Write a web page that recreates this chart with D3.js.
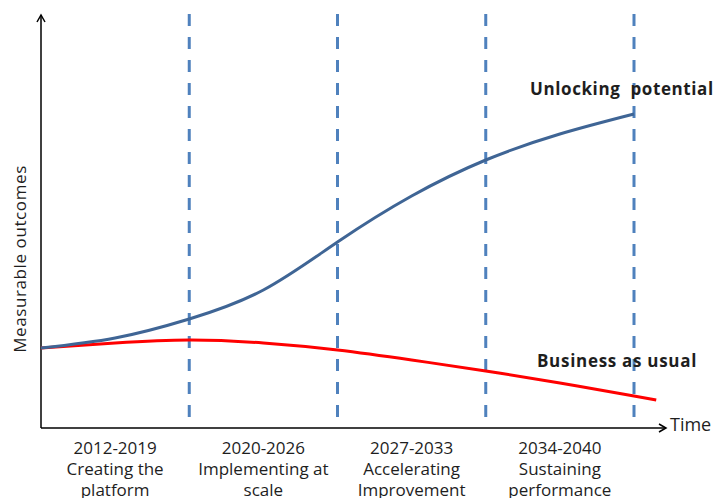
<!DOCTYPE html>
<html>
<head>
<meta charset="utf-8">
<script src="https://cdn.jsdelivr.net/npm/d3@7"></script>
<style>
  body { margin: 0; background: #fff; }
  text { font-family: "Open Sans", sans-serif; fill: #1e1e1e; }
</style>
</head>
<body>
<div id="chart"></div>
<script>
// Phase positions along the time axis (0 = start, 4 = 2040)
const phasePoints = [0, 0.5, 1, 1.5, 2, 2.5, 3, 3.5, 4];
const unlockingValues = [20, 22.5, 27.25, 34.5, 46.5, 58, 67, 73.5, 78.5];

const businessPoints = [0, 0.5, 1, 1.5, 2, 2.5, 3, 3.5, 4, 4.15];
const businessValues = [20, 21.25, 22, 21.25, 19.5, 17, 14.25, 11.25, 8, 7];

const dividers = [1, 2, 3, 4];
const periods = ["2012-2019", "2020-2026", "2027-2033", "2034-2040"];
const periodNames = [
  ["Creating the", "platform"],
  ["Implementing at", "scale"],
  ["Accelerating", "Improvement"],
  ["Sustaining", "performance"]
];

const width = 717, height = 498;

const svg = d3.select("#chart")
  .append("svg")
  .attr("width", width)
  .attr("height", height);

// Scales
const x = d3.scaleLinear().domain([0, 4]).range([41, 634]);
const y = d3.scaleLinear().domain([0, 100]).range([428, 28]);

// Dashed phase dividers
svg.selectAll(".divider")
  .data(dividers)
  .enter()
  .append("line")
  .attr("x1", d => x(d))
  .attr("x2", d => x(d))
  .attr("y1", 14)
  .attr("y2", 426)
  .attr("stroke", "#4F81BD")
  .attr("stroke-width", 3)
  .attr("stroke-dasharray", "12,11");

// Axes with arrow heads
const axisY = y(0);
svg.append("line")
  .attr("x1", x(0)).attr("x2", x(0))
  .attr("y1", axisY).attr("y2", 15)
  .attr("stroke", "#000").attr("stroke-width", 1.5);
svg.append("path")
  .attr("d", `M${x(0) - 4},${22} L${x(0)},${15} L${x(0) + 4},${22}`)
  .attr("fill", "none").attr("stroke", "#000").attr("stroke-width", 1.5);

svg.append("line")
  .attr("x1", x(0)).attr("x2", 666)
  .attr("y1", axisY).attr("y2", axisY)
  .attr("stroke", "#000").attr("stroke-width", 1.5);
svg.append("path")
  .attr("d", `M${659},${axisY - 4} L${666},${axisY} L${659},${axisY + 4}`)
  .attr("fill", "none").attr("stroke", "#000").attr("stroke-width", 1.5);

// Curves
const line = d3.line()
  .x(d => x(d[0]))
  .y(d => y(d[1]))
  .curve(d3.curveNatural);

svg.append("path")
  .datum(d3.zip(businessPoints, businessValues))
  .attr("d", line)
  .attr("fill", "none")
  .attr("stroke", "#FF0000")
  .attr("stroke-width", 3);

svg.append("path")
  .datum(d3.zip(phasePoints, unlockingValues))
  .attr("d", line)
  .attr("fill", "none")
  .attr("stroke", "#3F6595")
  .attr("stroke-width", 3);

// Series labels
svg.append("text")
  .attr("x", 530).attr("y", 95)
  .style("font-size", "17px")
  .style("font-weight", "bold")
  .style("letter-spacing", "0.6px")
  .attr("xml:space", "preserve")
  .text("Unlocking  potential");

svg.append("text")
  .attr("x", 537).attr("y", 367)
  .style("font-size", "17px")
  .style("font-weight", "bold")
  .style("letter-spacing", "0.7px")
  .text("Business as usual");

// Axis titles
svg.append("text")
  .attr("x", 670).attr("y", 431)
  .style("font-size", "18px")
  .text("Time");

svg.append("text")
  .attr("transform", `translate(26,259) rotate(-90)`)
  .attr("text-anchor", "middle")
  .style("font-size", "17px")
  .style("letter-spacing", "0.6px")
  .text("Measurable outcomes");

// Period labels under the x axis
const labels = svg.selectAll(".period")
  .data(periods)
  .enter()
  .append("text")
  .attr("text-anchor", "middle")
  .style("font-size", "17px")
  .attr("x", (d, i) => x(i + 0.5))
  .attr("y", 454);

labels.append("tspan")
  .attr("x", (d, i) => x(i + 0.5))
  .text(d => d);

labels.each(function(d, i) {
  periodNames[i].forEach(name => {
    d3.select(this).append("tspan")
      .attr("x", x(i + 0.5))
      .attr("dy", 21)
      .text(name);
  });
});
</script>
</body>
</html>
